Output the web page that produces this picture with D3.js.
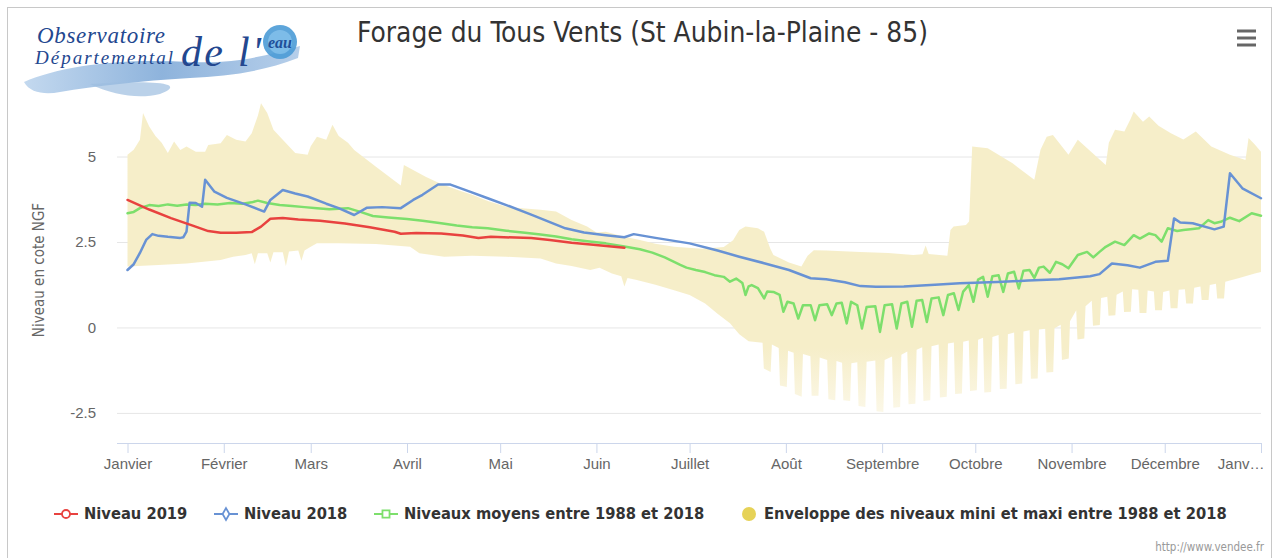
<!DOCTYPE html>
<html lang="fr">
<head>
<meta charset="UTF-8">
<title>Forage du Tous Vents</title>
<script src="https://d3js.org/d3.v7.min.js"></script>
<style>
  body { margin: 0; background: #fff; }
  svg { display: block; font-family: 'DejaVu Sans Condensed', 'DejaVu Sans', sans-serif; }
  .tick text { fill: #666; font-size: 15px; }
  .legend text { font-weight: bold; fill: #333; }
</style>
</head>
<body>
<svg id="chart" width="1276" height="558"></svg>
<script>
// ---- data (day of year, level in m NGF) ----
const months = ["Janvier", "Février", "Mars", "Avril", "Mai", "Juin", "Juillet", "Août",
  "Septembre", "Octobre", "Novembre", "Décembre", "Janv…"];
const yTicks = [-2.5, 0, 2.5, 5];

const niveau2019 = [[0,3.73],[7,3.45],[14,3.2],[21,2.98],[26,2.82],[30,2.77],[35,2.77],[40,2.79],
  [43,2.95],[46,3.18],[50,3.2],[55,3.16],[62,3.12],[70,3.04],[78,2.93],[86,2.8],[88,2.74],[93,2.76],
  [101,2.75],[108,2.69],[113,2.62],[117,2.65],[125,2.63],[130,2.62],[136,2.56],[143,2.48],[150,2.42],[160,2.33]];

const niveau2018 = [[0,1.68],[2,1.85],[4,2.18],[6,2.56],[8,2.73],[10,2.68],[13,2.65],[17,2.62],[18,2.64],
  [19,2.8],[20,3.65],[22,3.64],[24,3.53],[25,4.32],[28,3.97],[32,3.79],[38,3.6],[44,3.39],[46,3.73],
  [50,4.02],[54,3.92],[58,3.83],[64,3.62],[68,3.49],[73,3.29],[77,3.5],[82,3.52],[88,3.49],[92,3.73],
  [95,3.88],[100,4.18],[104,4.18],[110,3.98],[116,3.78],[122,3.58],[130,3.3],[136,3.08],[141,2.9],
  [147,2.78],[154,2.7],[160,2.64],[163,2.73],[170,2.62],[181,2.46],[190,2.25],[197,2.07],[205,1.88],
  [213,1.68],[220,1.44],[225,1.41],[231,1.32],[236,1.21],[241,1.19],[250,1.2],[260,1.25],[268,1.29],
  [280,1.33],[290,1.37],[300,1.41],[310,1.5],[313,1.56],[317,1.87],[322,1.82],[326,1.75],[331,1.92],
  [335,1.95],[337,3.19],[339,3.07],[343,3.05],[350,2.87],[353,2.95],[355,4.51],[359,4.07],[365,3.78]];

const niveauxMoyens = [[0,3.34],[2,3.38],[4,3.49],[7,3.58],[10,3.55],[13,3.6],[16,3.56],[19,3.6],[22,3.58],
  [25,3.62],[29,3.6],[33,3.64],[37,3.62],[40,3.66],[42,3.71],[45,3.64],[49,3.58],[53,3.55],[57,3.52],
  [61,3.49],[65,3.46],[71,3.49],[75,3.38],[79,3.26],[84,3.22],[90,3.17],[95,3.12],[101,3.05],[106,2.98],
  [111,2.93],[116,2.9],[122,2.83],[128,2.77],[133,2.72],[138,2.66],[143,2.58],[148,2.52],[154,2.46],
  [160,2.37],[165,2.29],[169,2.19],[173,2.05],[176,1.92],[178,1.83],[180,1.75],[183,1.68],[186,1.62],
  [189,1.53],[192,1.48],[194,1.34],[196,1.43],[198,1.3],[199,0.95],[200,1.2],[201,1.24],[203,1.15],
  [205,0.85],[206,1.05],[208,1.04],[210,0.95],[211.2,0.46],[212.5,0.75],[214.5,0.7],[216,0.26],
  [217.5,0.65],[220,0.65],[221.4,0.21],[222.8,0.65],[225.3,0.68],[226.8,0.36],[228.3,0.7],[230,0.72],
  [231.6,0.12],[233,0.75],[235,0.65],[236.5,-0.03],[238,0.6],[240.8,0.62],[242.3,-0.13],[243.8,0.65],
  [246.2,0.68],[247.7,-0.03],[249.2,0.7],[251.1,0.75],[252.6,0.02],[254.1,0.78],[255.9,0.8],[257.4,0.16],
  [258.9,0.85],[261.2,0.88],[262.7,0.36],[264.2,0.95],[266.1,1.0],[267.6,0.51],[269.1,1.05],[270.9,1.24],
  [272.4,0.75],[273.9,1.4],[275.5,1.48],[277,0.9],[278.5,1.5],[280.5,1.53],[282,1.04],[283.5,1.58],
  [285.5,1.63],[287,1.14],[288.5,1.66],[290.5,1.68],[292,1.45],[293.5,1.75],[295,1.78],[297,1.6],
  [299,1.92],[301,1.85],[303,1.73],[306,2.12],[309,2.21],[311,2.05],[313,2.21],[315,2.36],[318,2.51],
  [321,2.41],[324,2.7],[326,2.6],[327,2.65],[329,2.75],[331,2.7],[333,2.51],[335,2.9],[338,2.82],
  [340,2.85],[343,2.88],[345,2.9],[348,3.14],[350,3.05],[352,3.09],[355,3.21],[358,3.11],[362,3.34],[365,3.27]];

const enveloppeMaxi = [[0,5.05],[2,5.2],[4,5.49],[5,6.27],[7,5.88],[9,5.6],[11,5.4],[13,5.1],[15,5.44],
  [17,5.19],[19,5.29],[22,5.14],[25,5.14],[26,5.34],[30,5.39],[32,5.63],[35,5.49],[38,5.44],[40,5.68],
  [42,6.2],[43,6.56],[45,6.27],[47,5.78],[50,5.49],[54,5.1],[58,5.05],[59,5.3],[61,5.58],[64,5.49],
  [66,5.93],[68,5.6],[71,5.4],[73,5.19],[80,4.7],[88,4.15],[89,4.75],[96,4.41],[101,4.2],[107,4.0],
  [111,3.88],[116,3.7],[122,3.53],[128,3.48],[133,3.44],[138,3.39],[143,3.14],[148,2.95],[151,2.78],
  [154,2.8],[160,2.65],[165,2.56],[170,2.45],[176,2.36],[185,2.3],[192,2.35],[195,2.55],[197,2.85],
  [199,2.95],[203,2.9],[205,2.8],[207,2.3],[208,2.12],[213,1.9],[217,1.78],[219,2.1],[221,2.26],
  [225,2.25],[236,2.21],[245,2.18],[253,2.12],[256,2.14],[257,2.4],[258,2.15],[264,2.1],[265,2.85],
  [266,2.95],[270,3.0],[271,3.1],[272,5.29],[277,5.24],[285,4.8],[292,4.32],[294,5.2],[296,5.58],
  [298,5.63],[303,5.05],[306,5.49],[315,4.75],[316,5.4],[318,5.78],[321,5.73],[323,6.1],[324,6.32],
  [327,6.02],[329,6.17],[332,5.9],[336,5.68],[340,5.5],[344,5.73],[349,5.29],[355,5.05],[360,4.9],
  [361,5.54],[363,5.35],[365,5.14]];

// lower edge: from August on, a comb of deep minima separated by narrow notches
const enveloppeMini = [[0,1.78],[10,1.83],[19,1.87],[30,1.97],[34,2.07],[38,2.12],[40,2.17],[41,1.85],
  [42,2.17],[45,2.17],[46,1.9],[47,2.2],[50,2.2],[51,1.8],[52,2.22],[55,2.25],[56,1.95],[57,2.25],
  [59,2.36],[61,2.46],[68,2.46],[80,2.44],[91,2.36],[94,2.17],[102,2.07],[111,2.1],[122,2.07],[133,2.02],
  [138,1.87],[143,1.8],[149,1.68],[152,1.75],[156,1.58],[159,1.5],[160,1.2],[161,1.45],[164,1.39],
  [170,1.25],[176,1.09],[181,0.95],[186,0.7],[190,0.4],[194,0.12],[197,-0.2],[200,-0.4],
  [204.5,-0.45],[204.9,-1.2],[207.1,-1.3],[207.5,-0.5],
  [209.7,-0.6],[210.1,-1.7],[212.3,-1.74],[212.7,-0.68],
  [214.5,-0.74],[214.9,-1.95],[217.1,-2.03],[217.5,-0.78],
  [219.9,-0.84],[220.3,-2.0],[222.5,-2.0],[222.9,-0.88],
  [225.3,-0.95],[225.7,-2.1],[227.9,-2.13],[228.3,-0.98],
  [230.1,-1.03],[230.5,-2.13],[232.7,-2.15],[233.1,-1.05],
  [235,-1.02],[235.4,-2.3],[237.6,-2.33],[238,-1.0],
  [240.8,-0.97],[241.2,-2.45],[243.4,-2.47],[243.8,-0.95],
  [246.2,-0.85],[246.6,-2.35],[248.8,-2.33],[249.2,-0.8],
  [251.1,-0.7],[251.5,-2.25],[253.7,-2.23],[254.1,-0.65],
  [255.9,-0.58],[256.3,-2.15],[258.5,-2.13],[258.9,-0.55],
  [261.2,-0.5],[261.6,-2.05],[263.8,-2.03],[264.2,-0.47],
  [266.1,-0.44],[266.5,-1.95],[268.7,-1.93],[269.1,-0.42],
  [270.9,-0.38],[271.3,-1.86],[273.5,-1.84],[273.9,-0.36],
  [275.5,-0.3],[275.9,-1.9],[278.1,-1.89],[278.5,-0.28],
  [280.5,-0.22],[280.9,-1.8],[283.1,-1.79],[283.5,-0.2],
  [285.5,-0.15],[285.9,-1.66],[288.1,-1.64],[288.5,-0.12],
  [290.5,-0.08],[290.9,-1.5],[293.1,-1.49],[293.5,-0.06],
  [295.5,-0.04],[295.9,-1.32],[298.1,-1.3],[298.5,-0.02],
  [300.5,0.08],[300.9,-0.95],[303.1,-0.91],[303.5,0.18],
  [305.5,0.5],[305.9,-0.35],[308.1,-0.32],[308.5,0.62],
  [310.5,0.78],[310.9,0.05],[313.1,0.07],[313.5,0.86],
  [315.5,0.9],[315.9,0.34],[318.1,0.36],[318.5,0.96],
  [320.5,1.05],[320.9,0.45],[323.1,0.46],[323.5,1.12],
  [325.5,1.1],[325.9,0.42],[328.1,0.42],[328.5,1.08],
  [330.5,1.05],[330.9,0.5],[333.1,0.5],[333.5,1.04],
  [335.5,1.08],[335.9,0.56],[338.1,0.56],[338.5,1.1],
  [340.5,1.12],[340.9,0.7],[343.1,0.7],[343.5,1.16],
  [345.5,1.2],[345.9,0.8],[348.1,0.8],[348.5,1.24],
  [350.5,1.28],[350.9,0.85],[353.1,0.85],[353.5,1.34],
  [358,1.45],[363,1.58],[365,1.62]];

// ---- chart ----
const svg = d3.select("#chart");
const plotLeft = 117, plotRight = 1261, plotTop = 95, plotBottom = 443;
const colors = { r: "#e8423f", b: "#6892d4", g: "#7ddf6c", env: "#f6eec9", envDot: "#e6d257" };

const day = d => new Date(Date.UTC(2019, 0, 1) + d * 864e5);
const x = d3.scaleUtc().domain([day(0), day(365)]).range([127.5, plotRight]);
const y = d3.scaleLinear().domain([-3.38, 6.8]).range([plotBottom, plotTop]);

const defs = svg.append("defs");

// frame
svg.append("rect").attr("x", 7.5).attr("y", 7.5).attr("width", 1264).attr("height", 600)
  .attr("fill", "#fff").attr("stroke", "#c8c8c8");

// gridlines + y labels
const yAxis = svg.append("g").attr("transform", `translate(${plotLeft},0)`)
  .call(d3.axisLeft(y).tickValues(yTicks).tickSize(-(plotRight - plotLeft)).tickPadding(21)
    .tickFormat(d => String(d)));
yAxis.select(".domain").remove();
yAxis.selectAll("line").attr("stroke", "#e6e6e6");

// envelope (the deepest minima look washed out in the original)
const envGrad = defs.append("linearGradient").attr("id", "envFill")
  .attr("gradientUnits", "userSpaceOnUse").attr("x1", 0).attr("x2", 0)
  .attr("y1", y(-0.6)).attr("y2", y(-2.4));
envGrad.append("stop").attr("offset", "0%").attr("stop-color", colors.env);
envGrad.append("stop").attr("offset", "100%").attr("stop-color", "#fbf7e6");
const line = d3.line().x(d => x(day(d[0]))).y(d => y(d[1]));
svg.append("path")
  .attr("d", line(enveloppeMaxi.concat(enveloppeMini.slice().reverse())) + "Z")
  .attr("fill", "url(#envFill)");

// series
[[niveauxMoyens, colors.g], [niveau2018, colors.b], [niveau2019, colors.r]].forEach(([data, c]) => {
  svg.append("path").attr("d", line(data)).attr("fill", "none").attr("stroke", c)
    .attr("stroke-width", 2.5).attr("stroke-linejoin", "round").attr("stroke-linecap", "round");
});

// x axis
const xAxis = svg.append("g").attr("transform", `translate(0,${plotBottom})`)
  .call(d3.axisBottom(x).ticks(d3.utcMonth.every(1)).tickSize(10).tickPadding(5)
    .tickFormat((d, i) => months[i]));
xAxis.select(".domain").remove();
xAxis.selectAll("line").attr("stroke", "#ccd6eb");
xAxis.selectAll("text").filter((d, i) => i === 12).attr("text-anchor", "end").attr("dx", 3);
svg.append("line").attr("x1", plotLeft).attr("x2", plotRight).attr("y1", plotBottom + 0.5)
  .attr("y2", plotBottom + 0.5).attr("stroke", "#ccd6eb");

// axis title
svg.append("text").attr("transform", "translate(44,270) rotate(-90)").attr("text-anchor", "middle")
  .attr("font-size", 15).attr("fill", "#666").text("Niveau en cote NGF");

// title
const title = svg.append("text").attr("x", 642.5).attr("y", 42).attr("text-anchor", "middle")
  .attr("font-size", 22).attr("fill", "#333").text("Forage du Tous Vents (St Aubin-la-Plaine - 85)");
const fit = (sel, w) => {
  const fs = +sel.attr("font-size");
  sel.attr("font-size", fs * w / sel.node().getComputedTextLength());
};
fit(title, 571);

// legend
const legend = svg.append("g").attr("class", "legend");
const items = [
  { label: "Niveau 2019", c: colors.r, sym: "circle", tx: 84 },
  { label: "Niveau 2018", c: colors.b, sym: "diamond", tx: 244 },
  { label: "Niveaux moyens entre 1988 et 2018", c: colors.g, sym: "square", tx: 404 },
  { label: "Enveloppe des niveaux mini et maxi entre 1988 et 2018", c: colors.envDot, sym: "dot", tx: 764 }
];
const ly = 514;
items.forEach(it => {
  const cx = it.tx - 18;
  if (it.sym !== "dot") {
    legend.append("line").attr("x1", cx - 12).attr("x2", cx + 12).attr("y1", ly).attr("y2", ly)
      .attr("stroke", it.c).attr("stroke-width", 2);
    const symType = { circle: d3.symbolCircle, diamond: d3.symbolDiamond, square: d3.symbolSquare }[it.sym];
    legend.append("path").attr("transform", `translate(${cx},${ly})`)
      .attr("d", d3.symbol(symType, it.sym === "diamond" ? 40 : 50)())
      .attr("fill", "#fff").attr("stroke", it.c).attr("stroke-width", 1.8);
  } else {
    legend.append("circle").attr("cx", it.tx - 15).attr("cy", ly).attr("r", 7).attr("fill", it.c);
  }
  it.node = legend.append("text").attr("x", it.tx).attr("y", ly + 5).attr("font-size", 15).text(it.label);
});
fit(items[3].node, 463);
const lfs = items[3].node.attr("font-size");
items.forEach(it => it.node.attr("font-size", lfs));

// credits
svg.append("text").attr("x", 1264).attr("y", 551).attr("text-anchor", "end").attr("font-size", 11.5)
  .attr("fill", "#999").text("http://www.vendee.fr");

// menu button
[31, 38, 45].forEach(yy => svg.append("line").attr("x1", 1237).attr("x2", 1256).attr("y1", yy).attr("y2", yy)
  .attr("stroke", "#666").attr("stroke-width", 3));

// logo
const logo = svg.append("g");
const grad = defs.append("linearGradient").attr("id", "brush");
grad.append("stop").attr("offset", "0%").attr("stop-color", "#b9d2ec");
grad.append("stop").attr("offset", "50%").attr("stop-color", "#7aa6d6");
grad.append("stop").attr("offset", "100%").attr("stop-color", "#a9c6e6");
logo.append("path").attr("d", "M24,82 C60,66 120,58 190,62 C235,64 265,56 300,46 L298,58 C262,72 228,76 190,78 C140,81 95,86 60,92 C45,95 30,93 24,82 Z")
  .attr("fill", "url(#brush)").attr("opacity", 0.85);
logo.append("path").attr("d", "M90,84 C150,80 190,82 160,94 C140,99 115,96 90,84 Z")
  .attr("fill", "#9dbde0").attr("opacity", 0.7);
logo.append("circle").attr("cx", 280).attr("cy", 42).attr("r", 17).attr("fill", "#4b9bd6").attr("opacity", 0.9);
logo.append("circle").attr("cx", 280).attr("cy", 42).attr("r", 12).attr("fill", "#8cc6ee").attr("opacity", 0.7);
logo.append("text").attr("x", 280).attr("y", 48).attr("text-anchor", "middle").attr("font-family", "Liberation Serif")
  .attr("font-style", "italic").attr("font-weight", "bold").attr("font-size", 16).attr("fill", "#1f4f9a").text("eau");
logo.append("text").attr("x", 37).attr("y", 43).attr("font-family", "Liberation Serif").attr("font-style", "italic")
  .attr("font-size", 23).attr("textLength", 128).attr("fill", "#23478f").text("Observatoire");
logo.append("text").attr("x", 35).attr("y", 64).attr("font-family", "Liberation Serif").attr("font-style", "italic")
  .attr("font-size", 19).attr("textLength", 138).attr("fill", "#23478f").text("Départemental");
logo.append("text").attr("x", 181).attr("y", 66).attr("font-family", "Liberation Serif").attr("font-style", "italic")
  .attr("font-size", 42).attr("textLength", 80).attr("fill", "#23478f").text("de l'");
</script>
</body>
</html>
